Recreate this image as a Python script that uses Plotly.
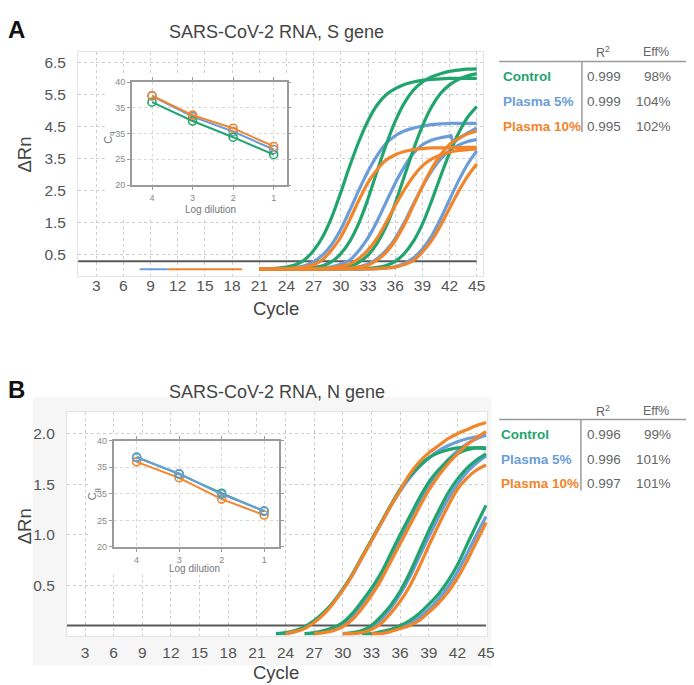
import plotly.graph_objects as go

W, H = 694, 685
GREEN = "#22a46e"
BLUE = "#6b9dd8"
ORANGE = "#f2842a"
THR = "#5a5a5a"
FONT = "Liberation Sans, Arial, sans-serif"

# ---------------- Panel A (S gene) amplification curves ----------------
A_cycles = list(range(21, 46))
A_control_1 = [0.05, 0.05, 0.08, 0.11, 0.18, 0.34, 0.63, 1.06, 1.67, 2.45, 3.28, 4.04, 4.68, 5.17, 5.49, 5.68, 5.81, 5.89, 5.94, 5.97, 5.99, 6.0, 6.0, 6.0, 6.0]
A_control_2 = [0.05, 0.05, 0.05, 0.05, 0.05, 0.07, 0.10, 0.15, 0.28, 0.53, 0.92, 1.49, 2.24, 3.10, 3.93, 4.66, 5.23, 5.63, 5.89, 6.05, 6.15, 6.22, 6.26, 6.29, 6.30]
A_control_3 = [0.05] * 8 + [0.06, 0.09, 0.14, 0.26, 0.48, 0.85, 1.38, 2.10, 2.94, 3.77, 4.51, 5.11, 5.53, 5.80, 5.97, 6.08, 6.15]
A_control_4 = [0.05] * 12 + [0.07, 0.10, 0.16, 0.29, 0.53, 0.91, 1.45, 2.16, 2.94, 3.67, 4.30, 4.79, 5.12]
A_p5_1 = [0.05, 0.05, 0.05, 0.07, 0.10, 0.15, 0.28, 0.49, 0.82, 1.29, 1.89, 2.52, 3.10, 3.59, 3.97, 4.21, 4.36, 4.45, 4.51, 4.56, 4.58, 4.6, 4.6, 4.6, 4.6]
A_p5_2_cycles = list(range(21, 43)) + [42.15, 42.4, 43, 44, 45]
A_p5_2 = [0.05, 0.05, 0.05, 0.05, 0.05, 0.05, 0.06, 0.08, 0.12, 0.20, 0.33, 0.63, 1.02, 1.54, 2.14, 2.73, 3.24, 3.66, 3.93, 4.07, 4.15, 4.20, 4.22, 4.00, 4.12, 4.30, 4.45]
A_p5_3 = [0.05] * 8 + [0.05, 0.06, 0.08, 0.12, 0.21, 0.37, 0.63, 1.00, 1.50, 2.07, 2.62, 3.10, 3.48, 3.75, 3.92, 4.03, 4.09]
A_p5_4 = [0.05] * 13 + [0.06, 0.08, 0.12, 0.22, 0.39, 0.67, 1.07, 1.61, 2.22, 2.81, 3.33, 3.74]
A_p10_1 = [0.05, 0.05, 0.05, 0.06, 0.08, 0.11, 0.18, 0.35, 0.65, 1.05, 1.60, 2.20, 2.75, 3.15, 3.45, 3.62, 3.72, 3.78, 3.81, 3.83, 3.83, 3.84, 3.84, 3.85, 3.85]
A_p10_2 = [0.05] * 6 + [0.05, 0.07, 0.09, 0.13, 0.21, 0.38, 0.64, 1.01, 1.50, 2.03, 2.52, 2.94, 3.27, 3.48, 3.61, 3.70, 3.75, 3.78, 3.80]
A_p10_3 = [0.05] * 9 + [0.07, 0.08, 0.11, 0.17, 0.33, 0.57, 0.94, 1.43, 2.03, 2.63, 3.17, 3.61, 3.94, 4.13, 4.27, 4.36]
A_p10_4 = [0.05] * 13 + [0.06, 0.08, 0.11, 0.19, 0.31, 0.58, 0.93, 1.40, 1.95, 2.48, 2.95, 3.33]
A_threshold = 0.29
A_p5_flat_cycles = [7.8, 10.9]
A_p10_flat_cycles = [10.9, 19.1]
A_flat_level = 0.04

# ---------------- Panel B (N gene) amplification curves ----------------
B_control_1_c = list(range(23, 46))
B_control_1 = [0.02, 0.03, 0.05, 0.09, 0.15, 0.23, 0.33, 0.46, 0.61, 0.78, 0.95, 1.12, 1.29, 1.45, 1.58, 1.68, 1.76, 1.81, 1.84, 1.86, 1.86, 1.86, 1.85]
B_p5_1_c = list(range(23, 46))
B_p5_1 = [0.02, 0.02, 0.04, 0.08, 0.14, 0.22, 0.33, 0.46, 0.60, 0.77, 0.94, 1.11, 1.28, 1.43, 1.56, 1.67, 1.76, 1.83, 1.88, 1.92, 1.95, 1.97, 1.98]
B_p10_1_c = list(range(24, 46))
B_p10_1 = [0.02, 0.04, 0.07, 0.13, 0.21, 0.32, 0.45, 0.60, 0.77, 0.94, 1.11, 1.28, 1.44, 1.60, 1.72, 1.81, 1.88, 1.95, 2.00, 2.04, 2.08, 2.11]
B_control_2_c = list(range(26, 46))
B_control_2 = [0.02, 0.03, 0.05, 0.08, 0.13, 0.22, 0.34, 0.47, 0.62, 0.81, 1.00, 1.18, 1.36, 1.52, 1.64, 1.73, 1.80, 1.84, 1.86, 1.86]
B_p5_2_c = list(range(26, 46))
B_p5_2 = [0.02, 0.02, 0.04, 0.07, 0.11, 0.19, 0.30, 0.43, 0.58, 0.76, 0.95, 1.13, 1.31, 1.48, 1.62, 1.74, 1.83, 1.90, 1.95, 1.99]
B_p10_2_c = list(range(27, 46))
B_p10_2 = [0.02, 0.03, 0.05, 0.09, 0.16, 0.27, 0.40, 0.55, 0.73, 0.91, 1.09, 1.27, 1.44, 1.58, 1.70, 1.80, 1.89, 1.96, 2.02]
B_control_3_c = list(range(30, 46))
B_control_3 = [0.02, 0.03, 0.05, 0.10, 0.19, 0.30, 0.44, 0.62, 0.83, 1.04, 1.23, 1.41, 1.55, 1.66, 1.74, 1.80]
B_p5_3_c = list(range(30, 46))
B_p5_3 = [0.02, 0.02, 0.04, 0.08, 0.16, 0.27, 0.41, 0.58, 0.78, 0.98, 1.17, 1.35, 1.50, 1.62, 1.71, 1.78]
B_p10_3_c = list(range(30, 46))
B_p10_3 = [0.02, 0.02, 0.03, 0.06, 0.12, 0.22, 0.34, 0.49, 0.68, 0.89, 1.09, 1.28, 1.45, 1.56, 1.64, 1.69]
B_control_4_c = list(range(32, 46))
B_control_4 = [0.02, 0.02, 0.04, 0.06, 0.10, 0.15, 0.22, 0.31, 0.41, 0.54, 0.70, 0.90, 1.10, 1.29]
B_p5_4_c = list(range(33, 46))
B_p5_4 = [0.02, 0.03, 0.05, 0.08, 0.12, 0.18, 0.26, 0.36, 0.48, 0.63, 0.81, 1.00, 1.18]
B_p10_4_c = list(range(33, 46))
B_p10_4 = [0.02, 0.02, 0.04, 0.07, 0.10, 0.15, 0.23, 0.32, 0.43, 0.57, 0.74, 0.93, 1.12]
B_threshold = 0.1

# ---------------- Insets (standard curves) ----------------
log_dilution = [4, 3, 2, 1]
A_cq_control = [36.1, 32.45, 29.3, 25.9]
A_cq_p5 = [37.3, 33.3, 30.4, 26.9]
A_cq_p10 = [37.4, 33.6, 31.05, 27.5]
B_cq_control = [36.9, 33.7, 30.1, 26.7]
B_cq_p5 = [36.8, 33.8, 29.9, 26.8]
B_cq_p10 = [36.0, 33.0, 29.0, 26.0]
cq_tickvals = [20, 25, 30, 35, 40]
cq_ticktext = ["20", "25", "35", "35", "40"]

# ---------------- Tables ----------------
table_labels = ["Control", "Plasma 5%", "Plasma 10%"]
table_colors = [GREEN, BLUE, ORANGE]
A_r2 = ["0.999", "0.999", "0.995"]
A_eff = ["98%", "104%", "102%"]
B_r2 = ["0.996", "0.996", "0.997"]
B_eff = ["99%", "101%", "101%"]

A_x_ticks = list(range(3, 46, 3))
A_y_ticks = [0.5, 1.5, 2.5, 3.5, 4.5, 5.5, 6.5]
B_y_ticks = [0.5, 1.0, 1.5, 2.0]


def px(x):
    return x / W


def py(y):
    return 1 - y / H


fig = go.Figure()


def curve(x, y, color, xa, ya, width=3.2):
    fig.add_trace(go.Scatter(x=x, y=y, mode="lines", xaxis=xa, yaxis=ya,
                             line=dict(color=color, width=width, shape="spline", smoothing=0.8),
                             hoverinfo="skip", showlegend=False))


# Panel A traces
A_RANGE_X = [1.0, 45.73]
fig.add_trace(go.Scatter(x=A_p5_flat_cycles, y=[A_flat_level] * 2, mode="lines", xaxis="x", yaxis="y",
                         line=dict(color=BLUE, width=2), hoverinfo="skip", showlegend=False))
fig.add_trace(go.Scatter(x=A_p10_flat_cycles, y=[A_flat_level] * 2, mode="lines", xaxis="x", yaxis="y",
                         line=dict(color=ORANGE, width=2), hoverinfo="skip", showlegend=False))
fig.add_trace(go.Scatter(x=[A_RANGE_X[0], 45], y=[A_threshold] * 2, mode="lines", xaxis="x", yaxis="y",
                         line=dict(color=THR, width=2), hoverinfo="skip", showlegend=False))
for ys in [A_p5_1, A_p5_3, A_p5_4]:
    curve(A_cycles, ys, BLUE, "x", "y")
curve(A_p5_2_cycles, A_p5_2, BLUE, "x", "y")
for ys in [A_control_1, A_control_2, A_control_3, A_control_4]:
    curve(A_cycles, ys, GREEN, "x", "y")
for ys in [A_p10_1, A_p10_2, A_p10_3, A_p10_4]:
    curve(A_cycles, ys, ORANGE, "x", "y")

# Panel B traces
B_RANGE_X = [1.105, 45.1]
fig.add_trace(go.Scatter(x=[B_RANGE_X[0], 45], y=[B_threshold] * 2, mode="lines", xaxis="x2", yaxis="y2",
                         line=dict(color=THR, width=2), hoverinfo="skip", showlegend=False))
for xs, ys in [(B_p5_1_c, B_p5_1), (B_p5_2_c, B_p5_2), (B_p5_3_c, B_p5_3), (B_p5_4_c, B_p5_4)]:
    curve(xs, ys, BLUE, "x2", "y2")
for xs, ys in [(B_control_1_c, B_control_1), (B_control_2_c, B_control_2), (B_control_3_c, B_control_3), (B_control_4_c, B_control_4)]:
    curve(xs, ys, GREEN, "x2", "y2")
for xs, ys in [(B_p10_1_c, B_p10_1), (B_p10_2_c, B_p10_2), (B_p10_3_c, B_p10_3), (B_p10_4_c, B_p10_4)]:
    curve(xs, ys, ORANGE, "x2", "y2")

# white cover panels behind the insets (own invisible subplots, drawn above main gridlines)
for xa, ya in [("x3", "y3"), ("x4", "y4")]:
    fig.add_trace(go.Scatter(x=[0, 1, 1, 0, 0], y=[0, 0, 1, 1, 0], mode="lines", fill="toself",
                             fillcolor="white", line=dict(width=0, color="white"), xaxis=xa, yaxis=ya,
                             hoverinfo="skip", showlegend=False))


def inset(ys, color, xa, ya):
    fig.add_trace(go.Scatter(x=log_dilution, y=ys, mode="lines+markers", xaxis=xa, yaxis=ya,
                             line=dict(color=color, width=2),
                             marker=dict(symbol="circle-open", size=8, color=color, line=dict(width=1.6)),
                             hoverinfo="skip", showlegend=False))


inset(A_cq_p5, BLUE, "x5", "y5")
inset(A_cq_control, GREEN, "x5", "y5")
inset(A_cq_p10, ORANGE, "x5", "y5")
inset(B_cq_p10, ORANGE, "x6", "y6")
inset(B_cq_control, GREEN, "x6", "y6")
inset(B_cq_p5, BLUE, "x6", "y6")

main_axis = dict(showgrid=True, gridcolor="#cdcdcd", griddash="dot", gridwidth=1, zeroline=False,
                 showline=True, linecolor="#e4e4e4", mirror=True,
                 tickfont=dict(size=15.5, color="#555", family=FONT))
inset_axis = dict(showgrid=True, gridcolor="#d8d8d8", griddash="dot", gridwidth=1, zeroline=False,
                  showline=True, linecolor="#9a9a9a", linewidth=1.5, mirror="ticks",
                  ticks="outside", ticklen=3, tickcolor="#9a9a9a", tickwidth=1,
                  tickfont=dict(size=9, color="#888", family=FONT))
hidden = dict(visible=False, range=[0, 1], showgrid=False, zeroline=False, fixedrange=True)

fig.update_layout(
    width=W, height=H, margin=dict(l=0, r=0, t=0, b=0),
    paper_bgcolor="white", plot_bgcolor="white",
    font=dict(family=FONT, color="#444"),
    showlegend=False,
    xaxis=dict(main_axis, domain=[px(79), px(489)], range=A_RANGE_X, tickvals=A_x_ticks,
               ticks="", ticklabelstandoff=-5, anchor="y"),
    yaxis=dict(main_axis, domain=[py(275), py(48)], range=[-0.168, 6.817], tickvals=A_y_ticks,
               ticktext=["%.1f" % v for v in A_y_ticks], ticks="outside", ticklen=8,
               tickcolor="rgba(0,0,0,0)", anchor="x"),
    xaxis2=dict(main_axis, domain=[px(67.7), px(492.7)], range=B_RANGE_X, tickvals=A_x_ticks,
                ticks="", ticklabelstandoff=3, anchor="y2"),
    yaxis2=dict(main_axis, domain=[py(640), py(413)], range=[0.0, 2.215], tickvals=B_y_ticks,
                ticktext=["%.1f" % v for v in B_y_ticks], ticks="outside", ticklen=8,
                tickcolor="rgba(0,0,0,0)", anchor="x2"),
    xaxis3=dict(hidden, domain=[px(106), px(294)], anchor="y3"),
    yaxis3=dict(hidden, domain=[py(216), py(72)], anchor="x3"),
    xaxis4=dict(hidden, domain=[px(90), px(285)], anchor="y4"),
    yaxis4=dict(hidden, domain=[py(578), py(437)], anchor="x4"),
    xaxis5=dict(inset_axis, domain=[px(133.3), px(290)], range=[4.5, 0.68], tickvals=log_dilution, anchor="y5"),
    yaxis5=dict(inset_axis, domain=[py(182.7), py(78.3)], range=[20, 40], tickvals=cq_tickvals,
                ticktext=cq_ticktext, anchor="x5"),
    xaxis6=dict(inset_axis, domain=[px(115), px(282.7)], range=[4.54, 0.64], tickvals=log_dilution, anchor="y6"),
    yaxis6=dict(inset_axis, domain=[py(550), py(442)], range=[20, 40], tickvals=cq_tickvals,
                ticktext=cq_ticktext, anchor="x6"),
)

shapes = []
# faint panel background behind panel B, with white plot area
shapes.append(dict(type="rect", xref="paper", yref="paper", x0=px(33), x1=px(497), y0=py(670), y1=py(398),
                   fillcolor="#f6f6f6", line=dict(width=0), layer="below"))
shapes.append(dict(type="rect", xref="paper", yref="paper", x0=px(67.7), x1=px(492.7), y0=py(640), y1=py(413),
                   fillcolor="white", line=dict(width=0), layer="below"))
# table rules
for (hy, vx, vy1) in [(57.3, 588.7, 129), (420.7, 587.7, 492.7)]:
    shapes.append(dict(type="line", xref="paper", yref="paper", x0=px(505), x1=px(694), y0=py(hy), y1=py(hy),
                       line=dict(color="#9a9a9a", width=1.5)))
    shapes.append(dict(type="line", xref="paper", yref="paper", x0=px(vx), x1=px(vx), y0=py(hy), y1=py(vy1),
                       line=dict(color="#9a9a9a", width=1.5)))
fig.update_layout(shapes=shapes)

ann = []


def text(x, y, s, size, color="#444", xanchor="center", bold=False, angle=0):
    if bold:
        s = "<b>%s</b>" % s
    ann.append(dict(x=px(x), y=py(y), xref="paper", yref="paper", text=s, showarrow=False,
                    xanchor=xanchor, yanchor="middle", textangle=angle,
                    font=dict(size=size, color=color, family=FONT)))


text(16.5, 24.5, "A", 24, "#111", bold=True)
text(16.5, 390, "B", 24, "#111", bold=True)
text(280, 27, "SARS-CoV-2 RNA, S gene", 18, "#444")
text(280, 392.7, "SARS-CoV-2 RNA, N gene", 18, "#444")
text(279, 308, "Cycle", 18.5, "#444")
text(279, 677.5, "Cycle", 18.5, "#444")
text(25, 152, "ΔRn", 18.5, "#444", angle=-90)
text(25, 529.3, "ΔRn", 18.5, "#444", angle=-90)
text(213, 207.7, "Log dilution", 10, "#777")
text(196.7, 572, "Log dilution", 10, "#777")
text(110, 135, "C<sub>q</sub>", 11, "#777", angle=-90)
text(95, 496.7, "C<sub>q</sub>", 11, "#777", angle=-90)

for (hy, rows, r2s, effs, lx, rx) in [(48, [72.7, 97.7, 123.3], A_r2, A_eff, 506.7, 592),
                                      (411.7, [435.7, 461, 485.7], B_r2, B_eff, 505, 591.7)]:
    text(610, hy, "R<sup>2</sup>", 12.5, "#666")
    text(664, hy, "Eff%", 12.5, "#666")
    for ry, lab, col, r2, eff in zip(rows, table_labels, table_colors, r2s, effs):
        text(lx, ry, lab, 13.5, col, xanchor="left", bold=True)
        text(rx, ry, r2, 13.5, "#666", xanchor="left")
        text(680.7, ry, eff, 13.5, "#666", xanchor="right")

fig.update_layout(annotations=ann)
fig.write_html("out.html")
